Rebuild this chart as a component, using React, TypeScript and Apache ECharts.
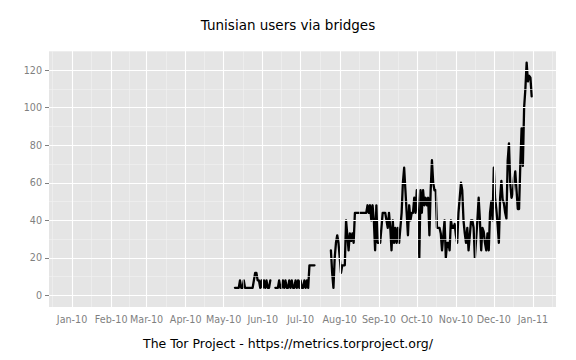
import React, { useEffect, useRef } from "react";
import * as echarts from "echarts";

const titleText = "Tunisian users via bridges";
const captionText = "The Tor Project - https://metrics.torproject.org/";
const monthNames = ["Jan", "Feb", "Mar", "Apr", "May", "Jun", "Jul", "Aug", "Sep", "Oct", "Nov", "Dec"];
// first day of the daily series
const startYear = 2010;
const startMonth = 4; // May (0-based)
const startDay = 10;
// daily users, null = no data
const dailyUsers: (number | null)[] = [
  4, 4, 4, 4, 8, 4, 4, 8, 4, 4, 4, 4, 4, 4, 4, 8, 12, 12, 8, 8,
  4, 8, 4, 8, 4, 8, 4, 4, 8, null, null, null, 4, 4, 4, 8, 4, 4, 8, 4,
  8, 4, 4, 8, 4, 8, 4, 4, 8, 4, 8, 4, 8, 4, 4, 8, 4, 8, 4, 16,
  16, 16, 16, 16, null, null, null, null, null, null, null, null, null, null, null, null,
  24, 12, 4, 20, 28, 32, 28, 20, 12, 16, 16, 16, 40, 32, 24, 33, 29, 33, 28, 44,
  44, 44, 44, 44, 44, 44, 44, 44, 44, 48, 44, 48, 40, 48, 40, 24, 48, 28, 28, 28,
  36, 44, 44, 44, 40, 36, 44, 36, 24, 40, 28, 36, 28, 36, 28, 36, 44, 60, 68, 56,
  44, 32, 48, 40, 44, 44, 52, 44, 56, 44, 20, 56, 44, 56, 48, 52, 48, 52, 32, 56,
  72, 60, 56, 56, 36, 36, 36, 33, 24, 32, 40, 20, 28, 28, 24, 40, 36, 36, 38, 32,
  28, 44, 52, 60, 56, 40, 33, 28, 36, 24, 32, 40, 40, 36, 20, 30, 40, 52, 40, 24,
  36, 34, 28, 24, 33, 24, 44, 50, 40, 68, 52, 46, 38, 28, 52, 61, 51, 49, 44, 41,
  72, 81, 60, 52, 54, 63, 66, 56, 46, 46, 70, 89, 69, 100, 110, 124, 114, 117, 116, 106,
];
const yMajorTicks = [0, 20, 40, 60, 80, 100, 120];
const yMinorTicks = [10, 30, 50, 70, 90, 110, 130];
const yMin = -6.2;
const yMax = 130.2;

const FONT = "DejaVu Sans";

export default function App() {
  const ref = useRef<HTMLDivElement>(null);
  useEffect(() => {
    if (!ref.current) return;
    const chart = echarts.init(ref.current, null, { renderer: "svg" });
    const seriesData = dailyUsers.map((v, i) => [
      new Date(startYear, startMonth, startDay + i).getTime(),
      v,
    ]);
    const monthStarts: number[] = [];
    for (let m = 0; m <= 12; m++) monthStarts.push(new Date(2010, m, 1).getTime());
    const minorX: number[] = [];
    for (let m = -1; m <= 12; m++) {
      const a = new Date(2010, m, 1).getTime();
      const b = new Date(2010, m + 1, 1).getTime();
      minorX.push((a + b) / 2);
    }
    const span = monthStarts[12] - monthStarts[0];
    const xMin = monthStarts[0] - span * 0.05;
    const xMax = monthStarts[12] + span * 0.05;

    chart.setOption({
      animation: false,
      backgroundColor: "#ffffff",
      title: {
        text: titleText,
        left: "center",
        top: 13,
        textStyle: { fontFamily: FONT, fontSize: 13.5, fontWeight: "normal", color: "#000" },
      },
      graphic: [
        {
          type: "text",
          left: "center",
          top: 337,
          style: { text: captionText, fontFamily: FONT, fontSize: 12.5, fill: "#000" },
        },
      ],
      grid: {
        left: 49,
        right: 20,
        top: 51,
        bottom: 53,
        show: true,
        backgroundColor: "#E5E5E5",
        borderWidth: 0,
      },
      xAxis: {
        type: "value",
        min: xMin,
        max: xMax,
        axisLine: { show: false },
        axisTick: { show: true, length: 4, lineStyle: { color: "#7F7F7F" }, customValues: monthStarts },
        axisLabel: {
          customValues: monthStarts,
          color: "#7F7F7F",
          fontFamily: FONT,
          fontSize: 9.6,
          margin: 7,
          hideOverlap: false,
          formatter: (val: number) => {
            const d = new Date(val);
            return monthNames[d.getMonth()] + "-" + String(d.getFullYear()).slice(2);
          },
        },
        splitLine: { show: false },
      },
      yAxis: {
        type: "value",
        min: yMin,
        max: yMax,
        axisLine: { show: false },
        axisTick: { show: true, length: 4, lineStyle: { color: "#7F7F7F" }, customValues: yMajorTicks },
        axisLabel: {
          customValues: yMajorTicks,
          color: "#7F7F7F",
          fontFamily: FONT,
          fontSize: 9.6,
          margin: 7,
        },
        splitLine: { show: false },
      },
      series: [
        {
          type: "line",
          data: [],
          z: 1,
          silent: true,
          markLine: {
            silent: true,
            symbol: ["none", "none"],
            label: { show: false },
            animation: false,
            lineStyle: { color: "#F2F2F2", width: 0.6, type: "solid" },
            emphasis: { disabled: true },
            data: [
              ...minorX.map((x) => ({ xAxis: x })),
              ...yMinorTicks.map((y) => ({ yAxis: y })),
            ],
          },
        },
        {
          type: "line",
          data: [],
          z: 2,
          silent: true,
          markLine: {
            silent: true,
            symbol: ["none", "none"],
            label: { show: false },
            animation: false,
            lineStyle: { color: "#FFFFFF", width: 1.1, type: "solid" },
            emphasis: { disabled: true },
            data: [
              ...monthStarts.map((x) => ({ xAxis: x })),
              ...yMajorTicks.map((y) => ({ yAxis: y })),
            ],
          },
        },
        {
          type: "line",
          data: seriesData,
          z: 3,
          showSymbol: false,
          connectNulls: false,
          lineStyle: { color: "#000000", width: 2.3, join: "round", cap: "round" },
        },
      ],
    });
    return () => chart.dispose();
  }, []);
  return (
    <div
      ref={ref}
      style={{ position: "fixed", left: 0, top: 0, width: 576, height: 360 }}
    />
  );
}
